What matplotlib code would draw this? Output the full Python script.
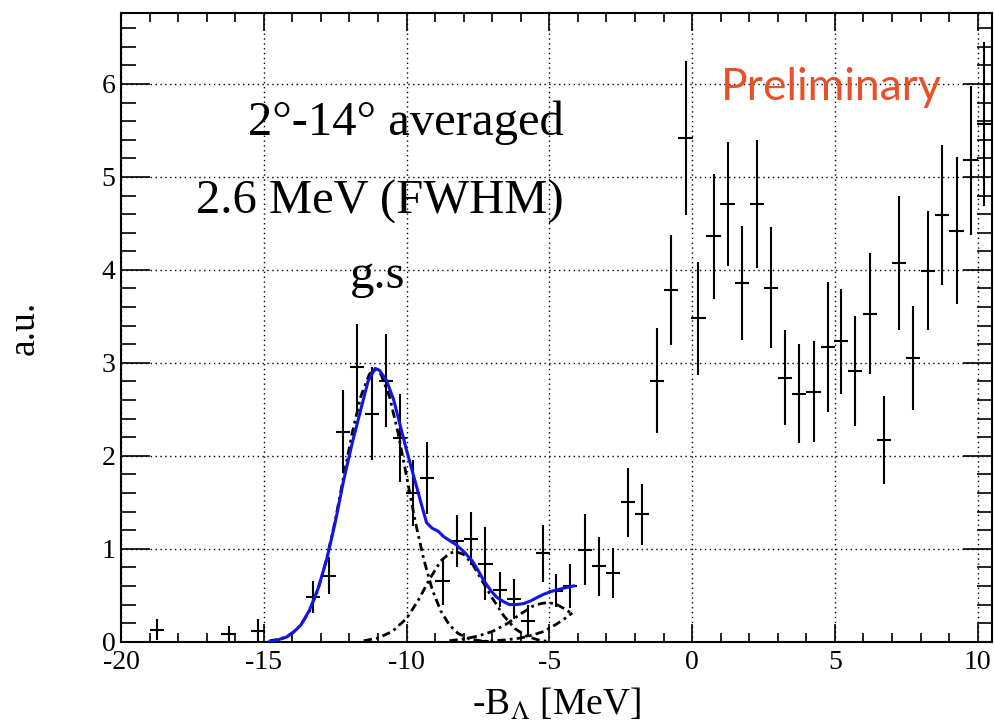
import matplotlib.pyplot as plt
from matplotlib.ticker import MultipleLocator

plt.rcParams['font.family'] = ['Liberation Serif', 'DejaVu Serif']
plt.rcParams['mathtext.fontset'] = 'stix'
plt.rcParams['axes.unicode_minus'] = False

# measured points (bin centre, value, error)
x = [-18.75, -16.23, -15.21, -13.27, -12.72, -12.23, -11.73, -11.22, -10.71, -10.22,
     -9.77, -9.28, -8.74, -8.25, -7.75, -7.24, -6.73, -6.24, -5.75, -5.22,
     -4.77, -4.28, -3.76, -3.26, -2.76, -2.25, -1.75, -1.24, -0.74, -0.23,
     0.22, 0.75, 1.24, 1.75, 2.27, 2.76, 3.24, 3.74, 4.25, 4.75,
     5.20, 5.70, 6.22, 6.72, 7.24, 7.73, 8.25, 8.75, 9.26, 9.75, 10.21]
y = [0.13, 0.08, 0.12, 0.48, 0.71, 2.26, 2.95, 2.45, 2.81, 2.19,
     1.60, 1.76, 0.65, 1.08, 1.11, 0.84, 0.56, 0.46, 0.22, 0.95,
     0.55, 0.60, 0.99, 0.81, 0.74, 1.50, 1.37, 2.81, 3.78, 5.42,
     3.48, 4.36, 4.71, 3.86, 4.71, 3.81, 2.84, 2.67, 2.69, 3.17,
     3.23, 2.91, 3.53, 2.17, 4.07, 3.05, 3.99, 4.59, 4.42, 5.18, 5.57]
ey = [0.11, 0.09, 0.12, 0.17, 0.20, 0.45, 0.47, 0.50, 0.50, 0.47,
      0.36, 0.39, 0.25, 0.28, 0.29, 0.39, 0.19, 0.22, 0.17, 0.31,
      0.18, 0.24, 0.38, 0.32, 0.27, 0.37, 0.33, 0.56, 0.59, 0.83,
      0.61, 0.67, 0.67, 0.61, 0.69, 0.65, 0.51, 0.53, 0.54, 0.70,
      0.56, 0.59, 0.65, 0.47, 0.72, 0.56, 0.64, 0.75, 0.79, 0.80, 0.88]
ex = 0.25

# total fit (blue)
fit_x = [-14.8, -14.5, -14.2, -13.9, -13.7, -13.4, -13.1, -12.8, -12.5, -12.2,
         -11.9, -11.6, -11.35, -11.1, -10.95, -10.7, -10.45, -10.2, -10.0, -9.75,
         -9.5, -9.3, -9.1, -8.9, -8.7, -8.5, -8.25, -8.0, -7.7, -7.5,
         -7.3, -7.05, -6.85, -6.6, -6.4, -6.15, -5.9, -5.65, -5.4, -5.2,
         -4.95, -4.7, -4.45, -4.15]
fit_y = [0.0, 0.02, 0.05, 0.12, 0.18, 0.34, 0.57, 0.88, 1.28, 1.74,
         2.14, 2.50, 2.80, 2.94, 2.92, 2.81, 2.60, 2.30, 2.06, 1.78,
         1.50, 1.28, 1.22, 1.19, 1.13, 1.09, 1.04, 0.97, 0.87, 0.77,
         0.66, 0.55, 0.48, 0.43, 0.40, 0.40, 0.41, 0.44, 0.48, 0.51,
         0.54, 0.56, 0.58, 0.60]

# components (dash-dot)
c1_x = [-14.8, -14.4, -14.0, -13.7, -13.4, -13.1, -12.8, -12.5, -12.2, -11.9,
        -11.6, -11.3, -11.1, -10.9, -10.6, -10.3, -10.0, -9.7, -9.4, -9.1,
        -8.8, -8.5, -8.2, -7.8, -7.4, -7.0]
c1_y = [0.01, 0.03, 0.09, 0.18, 0.33, 0.56, 0.89, 1.30, 1.78, 2.25,
        2.64, 2.88, 2.93, 2.88, 2.64, 2.25, 1.78, 1.30, 0.89, 0.56,
        0.33, 0.18, 0.09, 0.03, 0.01, 0.0]
c2_x = [-11.5, -11.0, -10.5, -10.0, -9.6, -9.2, -8.8, -8.5, -8.3, -8.0,
        -7.7, -7.4, -7.0, -6.6, -6.2, -5.8, -5.4, -5.0]
c2_y = [0.01, 0.04, 0.11, 0.25, 0.44, 0.67, 0.87, 0.95, 0.97, 0.94,
        0.84, 0.68, 0.47, 0.28, 0.14, 0.06, 0.02, 0.0]
c3_x = [-8.5, -8.0, -7.5, -7.0, -6.5, -6.0, -5.6, -5.3, -5.1, -4.8, -4.5, -4.2]
c3_y = [0.01, 0.03, 0.06, 0.11, 0.19, 0.30, 0.38, 0.41, 0.42, 0.41, 0.36, 0.30]
c4_x = [-7.5, -7.0, -6.5, -6.0, -5.6, -5.2, -4.8, -4.5, -4.2]
c4_y = [0.0, 0.01, 0.02, 0.04, 0.07, 0.11, 0.18, 0.24, 0.31]

fig = plt.figure(figsize=(9.94, 7.27), dpi=100)
ax = fig.add_axes([0.1217, 0.1173, 0.8763, 0.8644])

ax.errorbar(x, y, xerr=ex, yerr=ey, fmt='none', ecolor='k', elinewidth=1.5, capsize=0, zorder=3)

dashdot = (0, (3, 1.5, 1, 1.5))
for cx, cy in [(c1_x, c1_y), (c2_x, c2_y), (c3_x, c3_y), (c4_x, c4_y)]:
    ax.plot(cx, cy, color='k', linestyle=dashdot, linewidth=2.0, zorder=4)
ax.plot(fit_x, fit_y, color='#1414e6', linewidth=2.2, zorder=5)

ax.set_xlim(-20, 10.5)
ax.set_ylim(0, 6.76)
ax.xaxis.set_major_locator(MultipleLocator(5))
ax.xaxis.set_minor_locator(MultipleLocator(1))
ax.yaxis.set_major_locator(MultipleLocator(1))
ax.yaxis.set_minor_locator(MultipleLocator(0.2))
ax.tick_params(which='both', direction='in', top=True, right=True, width=1.2, labelsize=20)
ax.tick_params(axis='x', which='major', length=13, pad=6)
ax.tick_params(axis='x', which='minor', length=6.5)
ax.tick_params(axis='y', which='major', length=21, pad=4)
ax.tick_params(axis='y', which='minor', length=11)
for s in ax.spines.values():
    s.set_linewidth(1.5)
ax.grid(True, which='major', color='k', linestyle=(0, (1, 2.5)), linewidth=1.0)
ax.set_axisbelow(True)

ax.set_xlabel(r'-B$_{\Lambda}$ [MeV]', fontsize=27)
ax.xaxis.set_label_coords(0.5, -0.072)
ax.set_ylabel('a.u.', fontsize=27)
ax.yaxis.set_label_coords(-0.091, 0.5)

ax.text(-10.02, 5.45, '2°-14° averaged', ha='center', va='baseline', fontsize=35)
ax.text(-4.49, 4.61, '2.6 MeV (FWHM)', ha='right', va='baseline', fontsize=35)
ax.text(-11.98, 3.81, 'g.s', ha='left', va='baseline', fontsize=35)
ax.text(1.02, 5.83, 'Preliminary', ha='left', va='baseline', fontsize=32,
        color='#e8502a', family=['Lato', 'DejaVu Sans'])

fig.savefig('out.png', dpi=100)
